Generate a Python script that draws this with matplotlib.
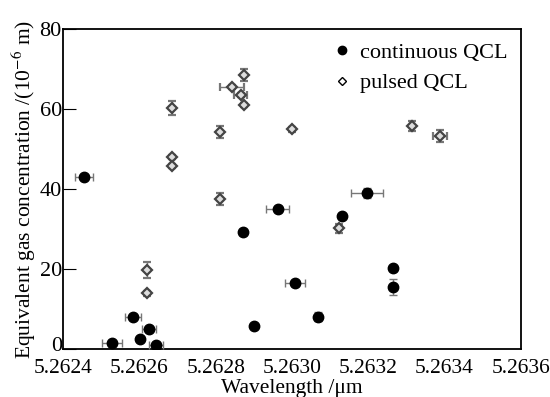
import matplotlib
matplotlib.use('Agg')
import matplotlib.pyplot as plt
import matplotlib.transforms as mtransforms

plt.rcParams['font.family'] = ['Liberation Serif', 'DejaVu Serif']
plt.rcParams['mathtext.fontset'] = 'stix'

# continuous QCL points
cw_x = [5.262455, 5.262528, 5.262583, 5.262601, 5.262625, 5.262643, 5.262871,
        5.262900, 5.262962, 5.263007, 5.263067, 5.263132, 5.263197, 5.263265, 5.263265]
cw_y = [43.0, 1.5, 8.2, 2.5, 5.2, 1.0, 29.2, 5.8, 35.0, 16.5, 8.2, 33.2, 39.0, 20.2, 15.5]
cw_xerr = [0.000024, 0.000026, 0.000021, 0.0, 0.000018, 0.000018, 0.000008,
           0.0, 0.000031, 0.000026, 0.0, 0.0, 0.000042, 0.0, 0.0]
cw_yerr = [0.5, 0.5, 0.5, 0.5, 0.5, 0.5, 0.6, 0.5, 0.6, 0.6, 1.2, 0.5, 1.2, 0.6, 2.0]

# pulsed QCL points
pl_x = [5.262685, 5.262685, 5.262685, 5.262810, 5.262842, 5.262865, 5.262873,
        5.262873, 5.262999, 5.263315, 5.263388, 5.262810, 5.262620, 5.262620, 5.263124]
pl_y = [60.2, 48.0, 45.7, 54.2, 65.5, 63.5, 68.5, 61.0, 55.0, 55.7, 53.2,
        37.5, 19.7, 14.0, 30.2]
pl_xerr = [0.0, 0.0, 0.0, 0.0, 0.000031, 0.000018, 0.0, 0.0, 0.0, 0.0, 0.000018,
           0.0, 0.0, 0.0, 0.0]
pl_yerr = [1.8, 0.5, 0.5, 1.5, 0.5, 0.5, 1.6, 0.6, 0.6, 1.2, 1.5, 1.5, 2.0, 0.6, 1.2]

fig, ax = plt.subplots(figsize=(5.5, 3.97), dpi=100)

ax.errorbar(pl_x, pl_y, xerr=pl_xerr, yerr=pl_yerr, fmt='D', ms=5.5,
            mfc='#dddddd', mec='#444444', mew=1.6, ecolor='#777777',
            elinewidth=1, capsize=3, capthick=1, zorder=3)
ax.errorbar(cw_x, cw_y, xerr=cw_xerr, yerr=cw_yerr, fmt='o', ms=7.5,
            mfc='black', mec='black', ecolor='#777777',
            elinewidth=1, capsize=3, capthick=1, zorder=4)

# legend handles
ax.plot([], [], 'o', color='black', ms=6, label='continuous QCL')
ax.plot([], [], 'D', mfc='white', mec='black', mew=1, ms=4.5, label='pulsed QCL')
h, l = ax.get_legend_handles_labels()
ax.legend(h[-2:], l[-2:], loc='upper right', frameon=False, fontsize=16,
          handletextpad=0.3, handlelength=1.0, labelspacing=0.45,
          borderaxespad=0.2)

ax.set_xlim(5.2624, 5.2636)
ax.set_ylim(0, 80)
ax.set_xticks([5.2624, 5.2626, 5.2628, 5.2630, 5.2632, 5.2634, 5.2636])
ax.set_xticklabels(['5.2624', '5.2626', '5.2628', '5.2630', '5.2632', '5.2634', '5.2636'])
ax.set_yticks([0, 20, 40, 60, 80])
ax.tick_params(axis='x', length=0, labelsize=15.5, pad=7)
ax.tick_params(axis='y', direction='in', length=9, labelsize=16, pad=1)
for s in ax.spines.values():
    s.set_linewidth(1.3)

ax.set_xlabel('Wavelength /\u03bcm', fontsize=15.5, labelpad=1)
ax.set_ylabel('Equivalent gas concentration /(10$^{-6}$ m)', fontsize=15.5, labelpad=1)

# nudge the "0" label up a little so it clears the x tick labels
ylab0 = ax.get_yticklabels()[0]
ylab0.set_transform(ylab0.get_transform() +
                    mtransforms.ScaledTranslation(0, 4 / 72, fig.dpi_scale_trans))

plt.subplots_adjust(left=0.115, right=0.947, top=0.927, bottom=0.12)
plt.savefig('out.png', dpi=100)
